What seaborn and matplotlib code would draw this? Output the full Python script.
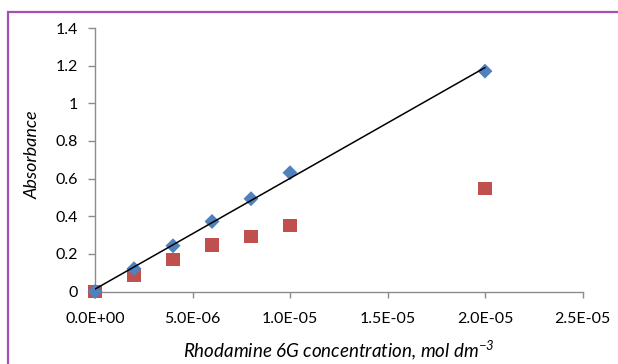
import matplotlib
matplotlib.use("Agg")
import matplotlib.pyplot as plt
import matplotlib.ticker as mticker
from matplotlib.patches import Rectangle
import seaborn as sns
import pandas as pd

# ---- data ----
concentration = [0, 2e-6, 4e-6, 6e-6, 8e-6, 1e-5, 2e-5]
absorbance_blue = [0.0, 0.121, 0.243, 0.372, 0.493, 0.631, 1.171]
absorbance_red = [0.0, 0.086, 0.170, 0.247, 0.291, 0.350, 0.549]
x_ticks = [0, 5e-6, 1e-5, 1.5e-5, 2e-5, 2.5e-5]
y_ticks = [0, 0.2, 0.4, 0.6, 0.8, 1.0, 1.2, 1.4]

df = pd.DataFrame({"conc": concentration, "blue": absorbance_blue, "red": absorbance_red})

sns.set_style("white")
plt.rcParams['font.family'] = ['Lato', 'DejaVu Sans']
plt.rcParams['mathtext.fontset'] = 'custom'
plt.rcParams['mathtext.rm'] = 'Lato:italic'
plt.rcParams['mathtext.it'] = 'Lato:italic'

fig = plt.figure(figsize=(6.18, 3.64), dpi=100)
ax = fig.add_axes([95/618, 1-291.5/364, (582.5-95)/618, (291.5-28)/364])

sns.scatterplot(data=df, x="conc", y="red", ax=ax, marker="s", s=90,
                color="#C0504D", edgecolor="none", clip_on=False, zorder=3)
sns.scatterplot(data=df, x="conc", y="blue", ax=ax, marker="D", s=58,
                color="#4F81BD", edgecolor="none", clip_on=False, zorder=4)
sns.regplot(data=df, x="conc", y="blue", ax=ax, scatter=False, ci=None,
            line_kws=dict(color="black", lw=1.1, zorder=5))

ax.set_xlim(0, 2.5e-5)
ax.set_ylim(0, 1.4)
ax.set_xticks(x_ticks)
ax.set_yticks(y_ticks)
ax.xaxis.set_major_formatter(mticker.FuncFormatter(lambda v, p: f"{v:.1E}"))
ax.yaxis.set_major_formatter(mticker.FuncFormatter(lambda v, p: f"{v:g}"))

for s in ["top", "right"]:
    ax.spines[s].set_visible(False)
for s in ["left", "bottom"]:
    ax.spines[s].set_color("#8C8C8C")
    ax.spines[s].set_linewidth(1.0)

ax.tick_params(axis="x", direction="out", length=4, width=1, color="#8C8C8C",
               pad=11, labelsize=11.5, labelcolor="black")
ax.tick_params(axis="y", direction="out", length=5, width=1, color="#8C8C8C",
               pad=7, labelsize=11.5, labelcolor="black")
ax.tick_params(bottom=True, left=True)

ax.set_xlabel("Rhodamine 6G concentration, mol dm$^{-3}$", fontsize=13.5,
              style="italic", labelpad=9, color="black")
ax.set_ylabel("Absorbance", fontsize=13, style="italic", color="black")
ax.yaxis.set_label_coords(-0.112, 0.52)

# purple frame (extends beyond right & bottom edges)
fig.patches.append(Rectangle((8/618, -0.1), 1.2, 1 - 11.7/364 + 0.1,
                             transform=fig.transFigure, fill=False,
                             edgecolor="#A64DB8", linewidth=1.6, zorder=0))

fig.savefig("out.png", dpi=100)
